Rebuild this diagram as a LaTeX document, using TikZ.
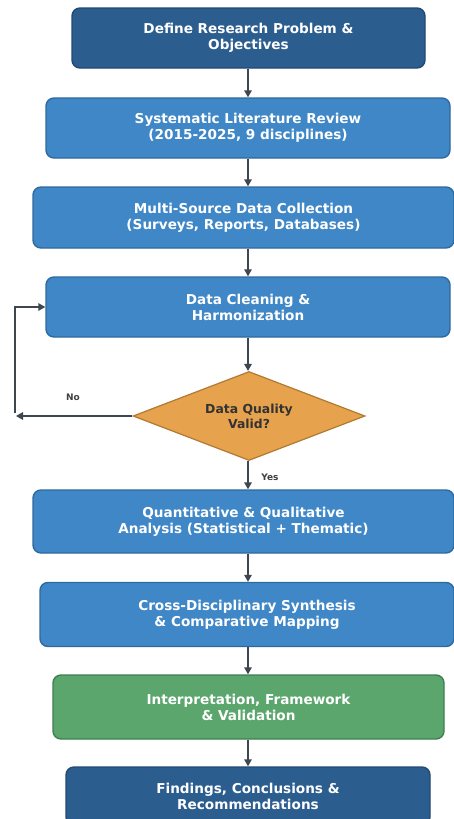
\documentclass[tikz,border=0pt]{standalone}
\usepackage{fontspec}
\setmainfont{DejaVu Sans}
\usetikzlibrary{shapes.geometric,arrows.meta}
\definecolor{dblue}{HTML}{2C5D8F}
\definecolor{dblueb}{HTML}{224A73}
\definecolor{mblue}{HTML}{3F87C6}
\definecolor{mblueb}{HTML}{2F6A9E}
\definecolor{mgreen}{HTML}{5BA66C}
\definecolor{mgreenb}{HTML}{3F7F50}
\definecolor{morange}{HTML}{E6A24C}
\definecolor{morangeb}{HTML}{B07A30}
\definecolor{arr}{HTML}{3E4650}
\tikzset{
  boxbase/.style={rectangle, rounded corners=8pt, line width=1.4pt, align=center,
    text=white, font=\fontsize{13.6}{16}\selectfont\bfseries, inner sep=0pt},
  darkbox/.style={boxbase, fill=dblue, draw=dblueb},
  bluebox/.style={boxbase, fill=mblue, draw=mblueb},
  greenbox/.style={boxbase, fill=mgreen, draw=mgreenb},
  decbox/.style={diamond, aspect=2.6, fill=morange, draw=morangeb, line width=1.2pt,
    align=center, text=black!80, font=\fontsize{12.4}{15}\selectfont\bfseries, inner sep=0pt},
  flow/.style={draw=arr, line width=1.5pt, -{Triangle[length=7pt,width=7.5pt]}},
  lbl/.style={font=\fontsize{9}{11}\selectfont\bfseries, text=black!75}
}
\begin{document}
\begin{tikzpicture}[x=1pt,y=-1pt]
\useasboundingbox[fill=white] (0,0) rectangle (454,819);
\node[darkbox, minimum width=353pt, minimum height=60pt] (b1) at (248.5,38) {Define Research Problem \&\\Objectives};
\node[bluebox, minimum width=404pt, minimum height=60pt] (b2) at (248,128) {Systematic Literature Review\\(2015-2025, 9 disciplines)};
\node[bluebox, minimum width=421pt, minimum height=61pt] (b3) at (243.5,217.5) {Multi-Source Data Collection\\(Surveys, Reports, Databases)};
\node[bluebox, minimum width=404pt, minimum height=60pt] (b4) at (248,307) {Data Cleaning \&\\Harmonization};
\node[decbox, minimum width=232pt, minimum height=89pt] (d) at (249,416) {Data Quality\\Valid?};
\node[bluebox, minimum width=421pt, minimum height=63pt] (b6) at (243.5,521.5) {Quantitative \& Qualitative\\Analysis (Statistical + Thematic)};
\node[bluebox, minimum width=414pt, minimum height=64pt] (b7) at (247,614.5) {Cross-Disciplinary Synthesis\\\& Comparative Mapping};
\node[greenbox, minimum width=391pt, minimum height=64pt] (b8) at (248.5,707) {Interpretation, Framework\\\& Validation};
\node[darkbox, minimum width=364pt, minimum height=58pt] (b9) at (248,796) {Findings, Conclusions \&\\Recommendations};

\draw[flow] (b1.south -| 248,0) -- (b2.north -| 248,0);
\draw[flow] (b2.south -| 248,0) -- (b3.north -| 248,0);
\draw[flow] (b3.south -| 248,0) -- (b4.north -| 248,0);
\draw[flow] (b4.south -| 248,0) -- (d.north -| 248,0);
\draw[flow] (d.south -| 248,0) -- (b6.north -| 248,0);
\draw[flow] (b6.south -| 248,0) -- (b7.north -| 248,0);
\draw[flow] (b7.south -| 248,0) -- (b8.north -| 248,0);
\draw[flow] (b8.south -| 248,0) -- (b9.north -| 248,0);

\coordinate (noend) at (16,416);
\coordinate (loopa) at (15,413);
\coordinate (loopb) at (15,307);
\draw[flow] (d.west) -- (noend);
\draw[flow] (loopa) -- (loopb) -- (b4.west);

\node[lbl] (no) at (73,397) {No};
\node[lbl] (yes) at (270,477) {Yes};
\end{tikzpicture}
\end{document}
